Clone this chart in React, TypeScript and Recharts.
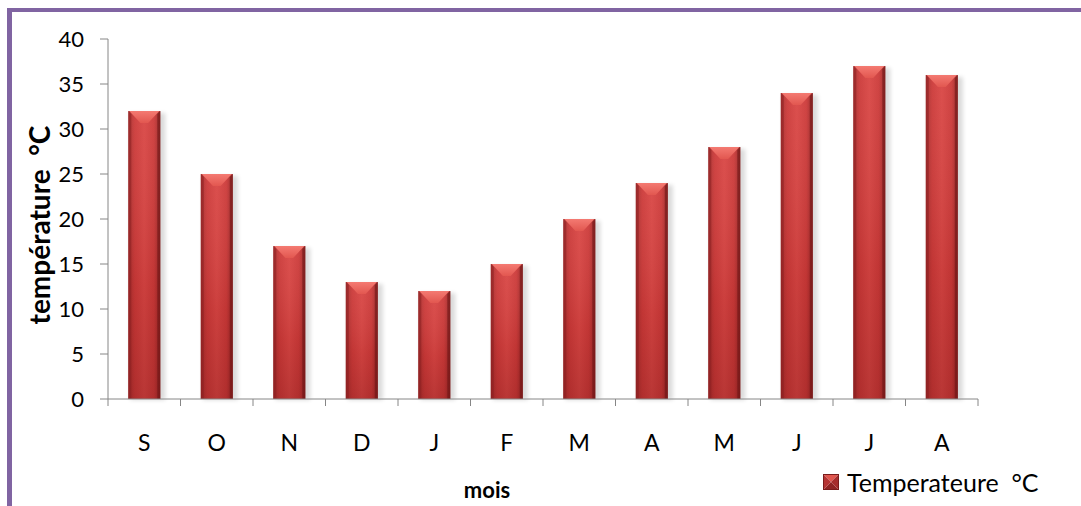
import React from "react";
import { BarChart, Bar, XAxis, YAxis, Label } from "recharts";

const months = ["S", "O", "N", "D", "J", "F", "M", "A", "M", "J", "J", "A"];
const temperatures = [32, 25, 17, 13, 12, 15, 20, 24, 28, 34, 37, 36];
const yTicks = [0, 5, 10, 15, 20, 25, 30, 35, 40];
const seriesName = "Temperateure\u00a0\u00a0°C";
const yTitle = "température\u00a0\u00a0°C";
const xTitle = "mois";

const data = months.map((m, i) => ({ key: i, month: m, temp: temperatures[i] }));

const W = 1081;
const H = 506;
const PLOT_LEFT = 108;
const PLOT_RIGHT = 978;
const PLOT_TOP = 39;
const PLOT_BOTTOM = 399;
const BAND = (PLOT_RIGHT - PLOT_LEFT) / months.length;
const FONT = "Lato, 'Open Sans', sans-serif";
const AXIS_COLOR = "#868686";

const BarShape = (props: any) => {
  const { x, y, width, height } = props;
  if (!height || height <= 0) return null;
  const bev = Math.min(12, height / 2);
  return (
    <g>
      <rect x={x + 2} y={y + 2} width={width + 3} height={height - 1} fill="#000" opacity={0.14} filter="url(#barShadow)" />
      <rect x={x} y={y} width={width} height={height} fill="url(#barH)" />
      <rect x={x} y={y} width={width} height={height} fill="url(#barV)" />
      <polygon
        points={`${x + 1},${y} ${x + width - 1},${y} ${x + width * 0.62},${y + bev} ${x + width * 0.38},${y + bev}`}
        fill="url(#bevelTop)"
      />
      <polygon points={`${x},${y} ${x + 3},${y + 3} ${x + 3},${y + height} ${x},${y + height}`} fill="#8c1f20" opacity={0.55} />
      <polygon points={`${x + width},${y} ${x + width - 3},${y + 3} ${x + width - 3},${y + height} ${x + width},${y + height}`} fill="#6e1516" opacity={0.6} />
    </g>
  );
};

const XTick = (props: any) => {
  const { x, index } = props;
  const left = x - BAND / 2;
  return (
    <g>
      <line x1={left} y1={PLOT_BOTTOM} x2={left} y2={PLOT_BOTTOM + 7} stroke={AXIS_COLOR} strokeWidth={1} />
      {index === months.length - 1 && (
        <line x1={left + BAND} y1={PLOT_BOTTOM} x2={left + BAND} y2={PLOT_BOTTOM + 7} stroke={AXIS_COLOR} strokeWidth={1} />
      )}
      <text x={x} y={PLOT_BOTTOM + 43} textAnchor="middle" dominantBaseline="central" fontSize={23} fontFamily={FONT} fill="#000">
        {months[index]}
      </text>
    </g>
  );
};

const YTitle = () => {
  const cy = 225;
  return (
    <text
      x={39}
      y={cy}
      transform={`rotate(-90, 39, ${cy})`}
      textAnchor="middle"
      dominantBaseline="central"
      fontFamily={FONT}
      fontSize={28}
      fontWeight={700}
      fill="#000"
    >
      {yTitle}
    </text>
  );
};

const XTitle = () => (
  <text
    x={487}
    y={489}
    textAnchor="middle"
    dominantBaseline="central"
    fontFamily={FONT}
    fontSize={22}
    fontWeight={700}
    fill="#000"
  >
    {xTitle}
  </text>
);

export default function App() {
  return (
    <div style={{ position: "fixed", left: 0, top: 0, width: W, height: H, background: "#fff", overflow: "hidden" }}>
      <div
        style={{
          position: "absolute",
          left: 7,
          top: 8,
          width: W,
          height: H + 20,
          borderTop: "4px solid #8064a2",
          borderLeft: "5px solid #8064a2",
          boxSizing: "border-box",
        }}
      />
      <div style={{ position: "absolute", left: 0, top: 0 }}>
        <BarChart
          width={W}
          height={H}
          data={data}
          margin={{ top: PLOT_TOP, right: W - PLOT_RIGHT, bottom: 47, left: PLOT_LEFT - 60 }}
          barCategoryGap="28%"
        >
          <defs>
            <linearGradient id="barH" x1="0" y1="0" x2="1" y2="0">
              <stop offset="0" stopColor="#a8302f" />
              <stop offset="0.2" stopColor="#cc3a39" />
              <stop offset="0.5" stopColor="#d94644" />
              <stop offset="0.8" stopColor="#cc3a39" />
              <stop offset="1" stopColor="#9a2828" />
            </linearGradient>
            <linearGradient id="barV" x1="0" y1="0" x2="0" y2="1">
              <stop offset="0" stopColor="#ffffff" stopOpacity={0.05} />
              <stop offset="0.6" stopColor="#5a0a0a" stopOpacity={0.1} />
              <stop offset="1" stopColor="#5a0a0a" stopOpacity={0.25} />
            </linearGradient>
            <linearGradient id="bevelTop" x1="0" y1="0" x2="0" y2="1">
              <stop offset="0" stopColor="#f47a72" />
              <stop offset="1" stopColor="#e25750" />
            </linearGradient>
            <filter id="barShadow" x="-20%" y="-5%" width="140%" height="110%">
              <feGaussianBlur stdDeviation="2" />
            </filter>
          </defs>
          <XAxis
            dataKey="key"
            type="category"
            height={60}
            stroke={AXIS_COLOR}
            tickLine={false}
            interval={0}
            tick={<XTick />}
          >
            <Label content={<XTitle />} />
          </XAxis>
          <YAxis
            domain={[0, 40]}
            ticks={yTicks}
            width={60}
            stroke={AXIS_COLOR}
            tickSize={8}
            tickMargin={16}
            tick={{ fontFamily: FONT, fontSize: 22, fill: "#000" }}
            interval={0}
          >
            <Label content={<YTitle />} />
          </YAxis>
          <Bar dataKey="temp" name={seriesName} shape={<BarShape />} isAnimationActive={false} />
        </BarChart>
      </div>
      <div
        style={{
          position: "absolute",
          left: 823,
          top: 467,
          display: "flex",
          alignItems: "center",
          fontFamily: FONT,
          fontSize: 25,
          color: "#000",
          whiteSpace: "pre",
        }}
      >
        <svg width={16} height={16} style={{ marginRight: 8 }}>
          <polygon points="0,0 16,0 8,8" fill="#e0574f" />
          <polygon points="0,16 16,16 8,8" fill="#8f2424" />
          <polygon points="0,0 0,16 8,8" fill="#b53434" />
          <polygon points="16,0 16,16 8,8" fill="#a62d2d" />
          <rect x={0.5} y={0.5} width={15} height={15} fill="none" stroke="#7a1c1c" strokeWidth={1} />
        </svg>
        <span>{seriesName}</span>
      </div>
    </div>
  );
}
